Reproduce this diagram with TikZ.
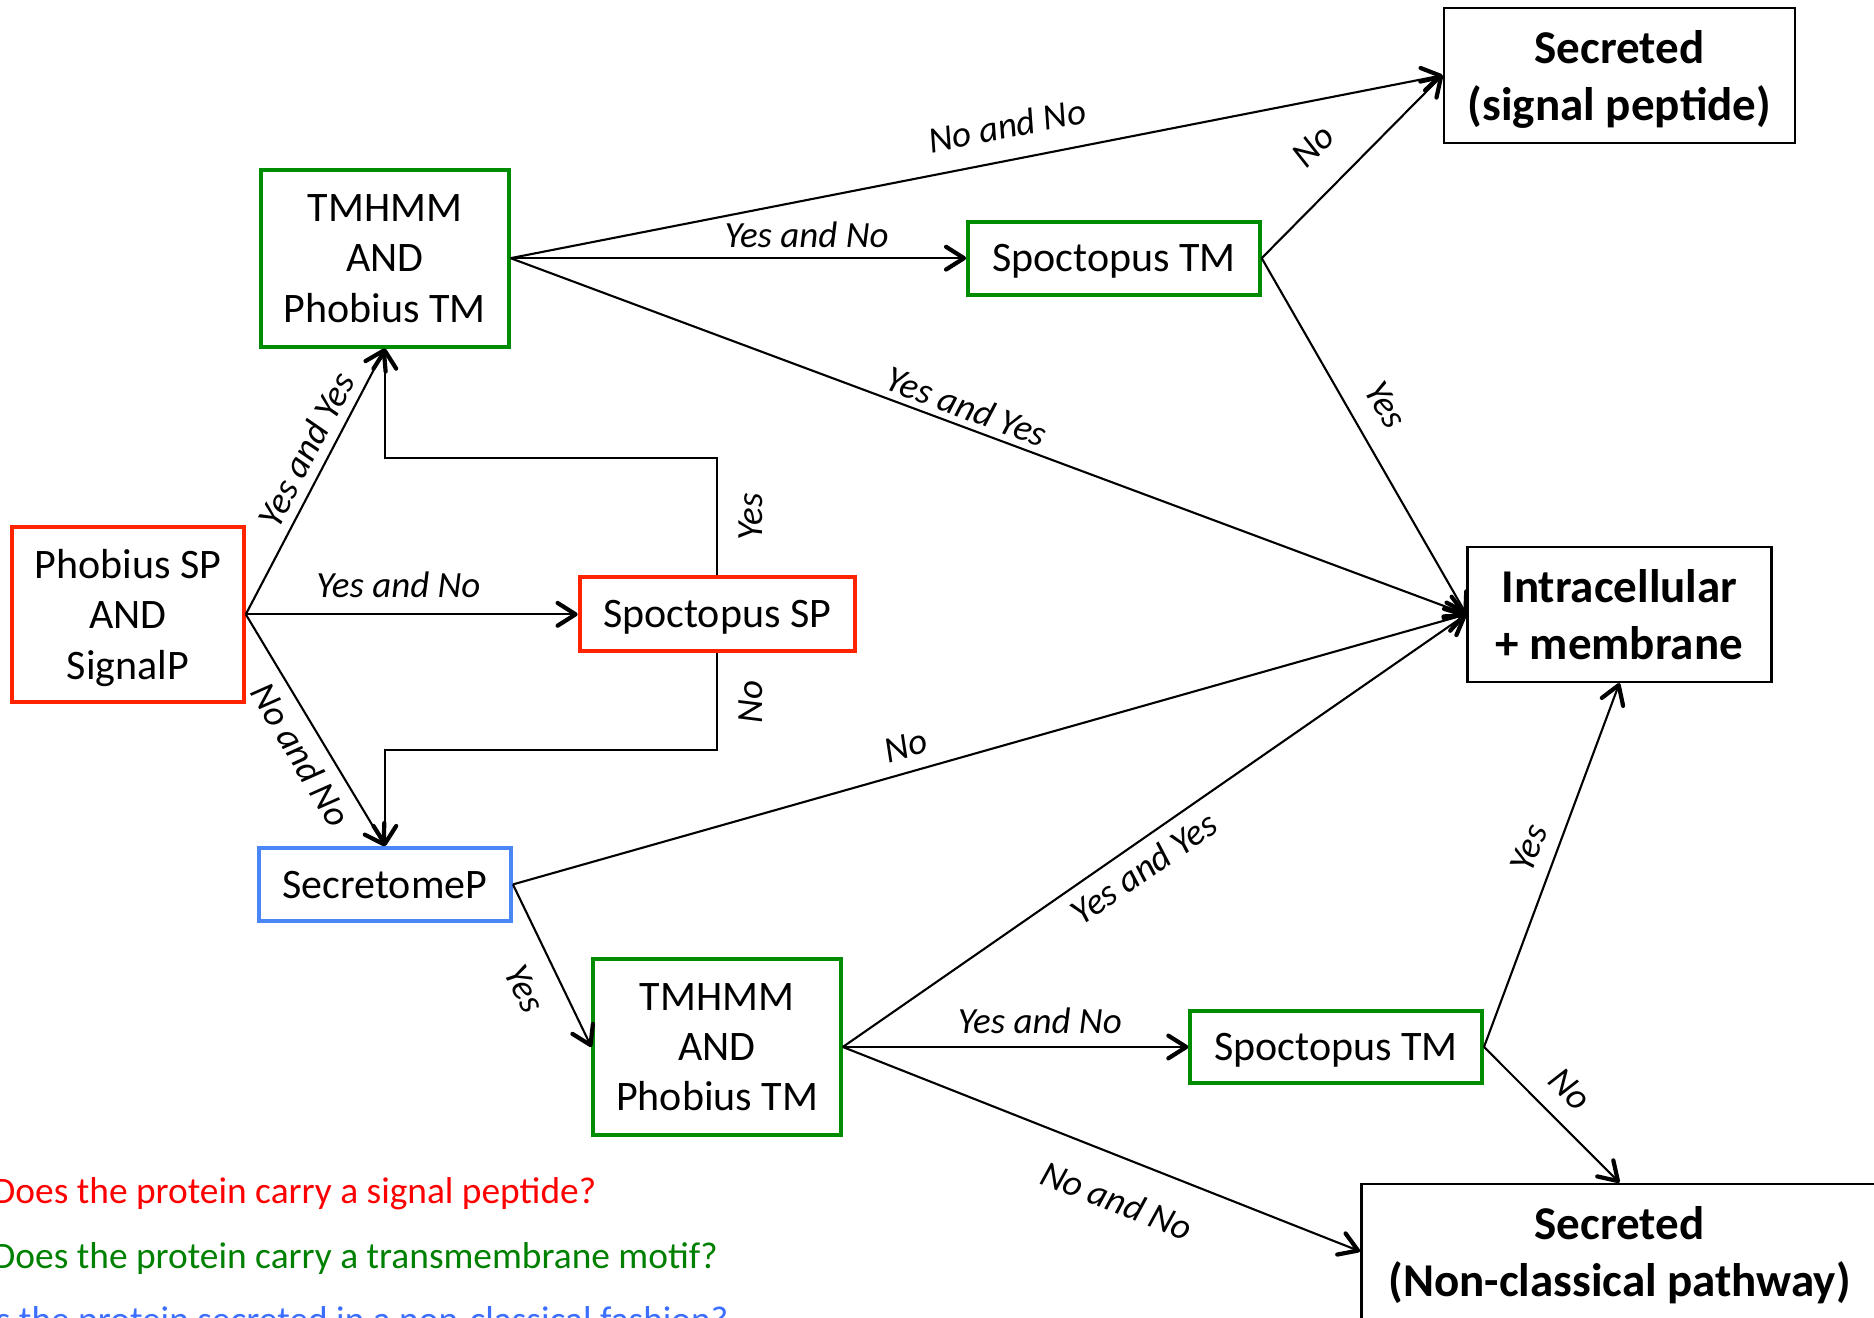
\documentclass[tikz,border=0pt]{standalone}
\usepackage{fontspec}
\setmainfont{Carlito}
\usetikzlibrary{positioning, arrows.meta}
\definecolor{spred}{RGB}{255,35,0}
\definecolor{tmgreen}{RGB}{0,140,0}
\definecolor{ncblue}{RGB}{74,134,247}
\definecolor{qred}{RGB}{255,0,0}
\definecolor{qgreen}{RGB}{0,128,0}
\definecolor{qblue}{RGB}{60,110,255}

\begin{document}
\begin{tikzpicture}[on grid,
    box/.style={draw, line width=0.95pt, inner sep=0pt, text depth=0pt, align=center, font=\fontsize{10}{12}\selectfont},
    outbox/.style={draw, line width=0.6pt, inner sep=0pt, text depth=0pt, align=center, minimum height=1.13cm, font=\bfseries\fontsize{11.2}{13.5}\selectfont},
    lbl/.style={inner sep=0pt, font=\itshape\fontsize{8.8}{10}\selectfont},
    question/.style={anchor=base west, inner sep=0pt, font=\fontsize{8.9}{10}\selectfont},
    >={Straight Barb[length=1.5mm, width=1.9mm, line width=1pt, round]},
    arr/.style={->, line width=0.5pt}]
  \path [use as bounding box, clip] (0,0) rectangle (15.68,-11.02);

  \node [box, draw=spred, minimum width=1.94cm, minimum height=1.46cm] (sp) at (1.07,-5.14) {Phobius SP\\AND\\SignalP};
  \node [box, draw=tmgreen, minimum width=2.07cm, minimum height=1.48cm, above right=2.98cm and 2.15cm of sp] (tma) {TMHMM\\AND\\Phobius TM};
  \node [box, draw=spred, minimum width=2.30cm, minimum height=0.62cm, right=4.93cm of sp] (ssp) {Spoctopus SP};
  \node [box, draw=ncblue, minimum width=2.11cm, minimum height=0.61cm, below right=2.26cm and 2.15cm of sp] (secp) {SecretomeP};
  \node [box, draw=tmgreen, minimum width=2.44cm, minimum height=0.61cm, right=6.10cm of tma] (stma) {Spoctopus TM};
  \node [outbox, minimum width=2.94cm, above right=1.53cm and 4.23cm of stma] (ssig) {Secreted\\(signal peptide)};
  \node [outbox, minimum width=2.54cm, below=4.51cm of ssig] (imem) {Intracellular\\+ membrane};
  \node [box, draw=tmgreen, minimum width=2.07cm, minimum height=1.47cm, below right=1.36cm and 2.78cm of secp] (tmb) {TMHMM\\AND\\Phobius TM};
  \node [box, draw=tmgreen, minimum width=2.44cm, minimum height=0.60cm, right=5.18cm of tmb] (stmb) {Spoctopus TM};
  \node [outbox, minimum width=4.32cm, below=5.33cm of imem] (snc) {Secreted\\(Non-classical pathway)};

  \node [question, text=qred] (qsp) at (-0.07,-10.07) {Does the protein carry a signal peptide?};
  \node [question, text=qgreen] (qtm) at (-0.07,-10.61) {Does the protein carry a transmembrane motif?};
  \node [question, text=qblue] (qnc) at (-0.12,-11.15) {Is the protein secreted in a non-classical fashion?};

  \draw [arr] (sp.east) -- node [lbl, sloped, above=2.2pt, pos=0.58] {Yes and Yes} (tma.south);
  \draw [arr] (sp.east) -- node [lbl, above=3.7pt, pos=0.46] {Yes and No} (ssp.west);
  \draw [arr] (sp.east) -- node [lbl, sloped, below=2.6pt, pos=0.55] {No and No} (secp.north);
  \draw [arr] (ssp.north) -- node [lbl, sloped, below=4.9pt] {Yes} ++(0,0.98) -| (tma.south);
  \draw [arr] (ssp.south) -- node [lbl, rotate=90, anchor=north, inner ysep=4.9pt] {No} ++(0,-0.81) -| (secp.north);

  \draw [arr] (tma.east) -- node [lbl, sloped, above=4.9pt, pos=0.54] {No and No} (ssig.west);
  \draw [arr] (tma.east) -- node [lbl, above=2.3pt, pos=0.65] {Yes and No} (stma.west);
  \draw [arr] (tma.east) -- node [lbl, sloped, above=1.5pt, pos=0.47] {Yes and Yes} (imem.west);
  \draw [arr] (stma.east) -- node [lbl, sloped, above=6.9pt, pos=0.45] {No} (ssig.west);
  \draw [arr] (stma.east) -- node [lbl, sloped, above=5.1pt, pos=0.46] {Yes} (imem.west);

  \draw [arr] (secp.east) -- node [lbl, sloped, above=3.1pt, pos=0.42] {No} (imem.west);
  \draw [arr] (secp.east) -- node [lbl, sloped, below=5.2pt, pos=0.55] {Yes} (tmb.west);
  \draw [arr] (tmb.east) -- node [lbl, sloped, below=2.5pt, pos=0.46] {Yes and Yes} (imem.west);
  \draw [arr] (tmb.east) -- node [lbl, above=2.9pt, pos=0.57] {Yes and No} (stmb.west);
  \draw [arr] (tmb.east) -- node [lbl, sloped, below=6.7pt, pos=0.56] {No and No} (snc.west);
  \draw [arr] (stmb.east) -- node [lbl, sloped, above=3.4pt, pos=0.52] {Yes} (imem.south);
  \draw [arr] (stmb.east) -- node [lbl, sloped, above=4.2pt, pos=0.475] {No} (snc.north);
\end{tikzpicture}
\end{document}
